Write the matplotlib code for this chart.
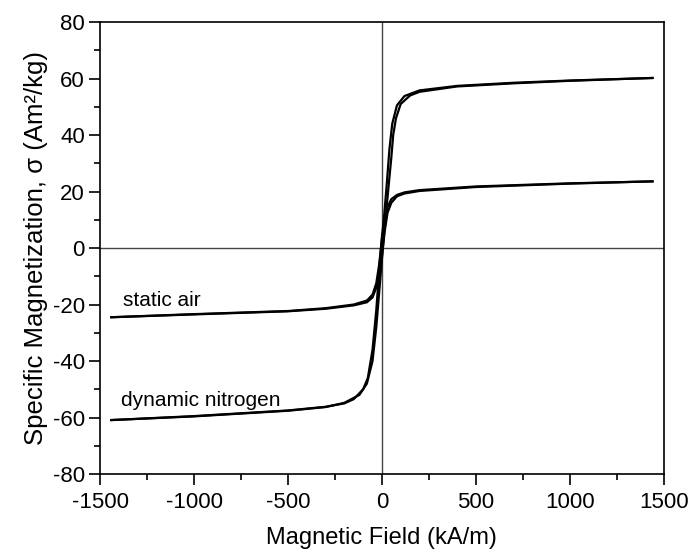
import matplotlib
matplotlib.use("Agg")
import matplotlib.pyplot as plt
from matplotlib.ticker import MultipleLocator

plt.rcParams["font.family"] = ["Liberation Sans", "DejaVu Sans"]
plt.rcParams["axes.unicode_minus"] = False

# dynamic nitrogen loop (kA/m, Am^2/kg)
n2_up_h = [-1440, -1000, -500, -300, -200, -120, -80, -50, -30, -10, 0, 10, 30, 50, 60, 75, 100, 150, 200, 400, 700, 1000, 1440]
n2_up_m = [-60.9, -59.6, -57.6, -56.3, -54.8, -52.0, -48.0, -40.0, -28.0, -12.0, -4.0, 4.0, 18.0, 32.0, 40.0, 46.0, 51.0, 54.0, 55.3, 57.2, 58.3, 59.2, 60.2]
n2_down_h = [1440, 1000, 700, 400, 200, 120, 80, 55, 40, 25, 10, 0, -10, -30, -50, -75, -100, -150, -200, -300, -500, -1000, -1440]
n2_down_m = [60.2, 59.3, 58.5, 57.4, 55.8, 53.8, 50.5, 44.0, 35.0, 22.0, 10.0, 4.0, -4.0, -22.0, -36.0, -46.0, -50.0, -53.5, -55.0, -56.2, -57.5, -59.5, -60.9]

# static air loop
air_up_h = [-1440, -1000, -500, -300, -150, -80, -50, -30, -15, 0, 15, 30, 50, 80, 120, 200, 500, 1000, 1440]
air_up_m = [-24.5, -23.5, -22.4, -21.5, -20.3, -19.2, -17.5, -14.0, -9.0, -3.0, 6.0, 12.5, 16.0, 18.3, 19.3, 20.2, 21.6, 22.8, 23.6]
air_down_h = [1440, 1000, 500, 200, 120, 80, 50, 30, 15, 0, -15, -30, -50, -80, -150, -300, -500, -1000, -1440]
air_down_m = [23.6, 22.9, 21.8, 20.5, 19.7, 18.8, 17.3, 14.5, 9.5, 3.0, -6.0, -12.5, -16.5, -18.6, -20.0, -21.3, -22.3, -23.4, -24.5]

fig = plt.figure(figsize=(6.9, 5.58), dpi=100)
ax = fig.add_axes([0.145, 0.1505, 0.817, 0.81])

# zero lines
ax.axhline(0, color="#444444", linewidth=1.0, zorder=1)
ax.axvline(0, color="#444444", linewidth=1.0, zorder=1)

for h, m in [(n2_up_h, n2_up_m), (n2_down_h, n2_down_m), (air_up_h, air_up_m), (air_down_h, air_down_m)]:
    ax.plot(h, m, color="black", linewidth=1.6, zorder=2)

ax.text(-1390, -56.0, "dynamic nitrogen", fontsize=15, ha="left", va="baseline")
ax.text(-1380, -20.6, "static air", fontsize=15, ha="left", va="baseline")

ax.set_xlim(-1500, 1500)
ax.set_ylim(-80, 80)
ax.xaxis.set_major_locator(MultipleLocator(500))
ax.xaxis.set_minor_locator(MultipleLocator(250))
ax.yaxis.set_major_locator(MultipleLocator(20))
ax.yaxis.set_minor_locator(MultipleLocator(10))
ax.tick_params(which="both", direction="out", top=False, right=False, width=1.2, labelsize=16)
ax.tick_params(which="major", length=8)
ax.tick_params(which="minor", length=4.5)
ax.tick_params(axis="x", which="major", pad=5)
ax.tick_params(axis="y", which="major", pad=3)
for s in ax.spines.values():
    s.set_linewidth(1.2)

ax.set_xlabel("Magnetic Field (kA/m)", fontsize=17, labelpad=10)
ax.set_ylabel("Specific Magnetization, \u03c3 (Am\u00b2/kg)", fontsize=18.5, labelpad=3)

fig.savefig("out.png", dpi=100)
